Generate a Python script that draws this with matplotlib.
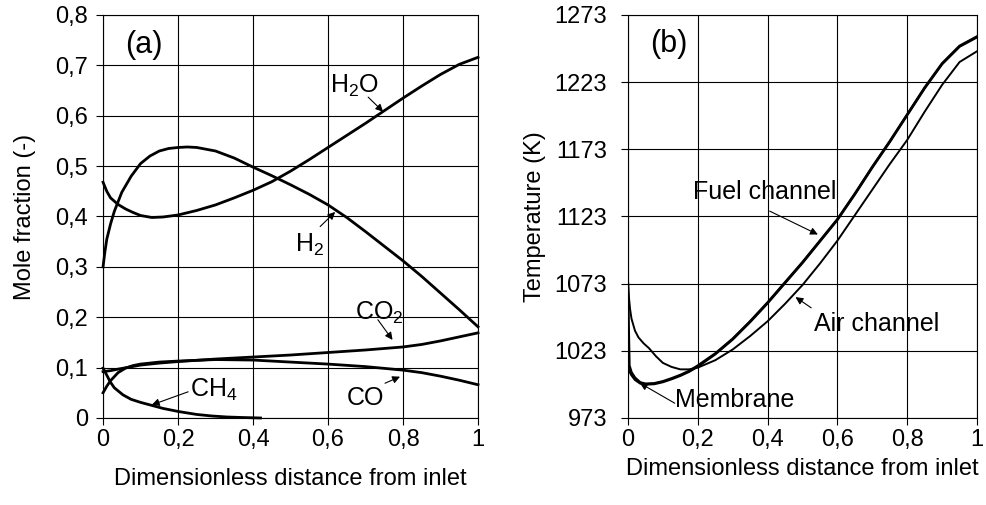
import numpy as np
import matplotlib
matplotlib.use("Agg")
from matplotlib import pyplot as plt
from matplotlib.ticker import FuncFormatter

plt.rcParams['font.family'] = ['Liberation Sans', 'DejaVu Sans']
plt.rcParams['mathtext.fontset'] = 'custom'
plt.rcParams['mathtext.rm'] = 'Liberation Sans'
plt.rcParams['mathtext.it'] = 'Liberation Sans'

# ---- (a) mole fractions along the channel
h2o_x = [0, 0.01, 0.02, 0.04, 0.06, 0.08, 0.1, 0.13, 0.16, 0.2, 0.25, 0.3, 0.35, 0.4, 0.45,
         0.5, 0.55, 0.6, 0.65, 0.7, 0.75, 0.8, 0.85, 0.9, 0.95, 1.0]
h2o_y = [0.468, 0.45, 0.437, 0.424, 0.415, 0.408, 0.402, 0.398, 0.399, 0.403, 0.412, 0.423, 0.437,
         0.452, 0.469, 0.49, 0.513, 0.537, 0.561, 0.585, 0.61, 0.635, 0.659, 0.682, 0.702, 0.716]

h2_x = [0, 0.005, 0.01, 0.02, 0.03, 0.05, 0.075, 0.1, 0.125, 0.15, 0.175, 0.2, 0.225, 0.25, 0.3,
        0.35, 0.4, 0.45, 0.5, 0.55, 0.6, 0.65, 0.7, 0.75, 0.8, 0.85, 0.9, 0.95, 1.0]
h2_y = [0.30, 0.33, 0.355, 0.385, 0.41, 0.448, 0.48, 0.505, 0.52, 0.53, 0.535, 0.537, 0.538, 0.537,
        0.53, 0.516, 0.498, 0.481, 0.463, 0.444, 0.423, 0.398, 0.37, 0.341, 0.312, 0.281, 0.248,
        0.215, 0.181]

co2_x = [0, 0.02, 0.04, 0.07, 0.1, 0.15, 0.2, 0.3, 0.4, 0.5, 0.6, 0.7, 0.8, 0.85, 0.9, 0.95, 1.0]
co2_y = [0.092, 0.094, 0.097, 0.101, 0.105, 0.109, 0.112, 0.117, 0.121, 0.125, 0.13, 0.135, 0.141,
         0.146, 0.153, 0.161, 0.169]

co_x = [0, 0.01, 0.02, 0.04, 0.06, 0.08, 0.1, 0.15, 0.2, 0.3, 0.4, 0.5, 0.6, 0.7, 0.8, 0.85, 0.9,
        0.95, 1.0]
co_y = [0.05, 0.063, 0.074, 0.09, 0.099, 0.104, 0.107, 0.111, 0.113, 0.116, 0.115, 0.111, 0.107,
        0.102, 0.095, 0.09, 0.083, 0.075, 0.066]

ch4_x = [0, 0.01, 0.019, 0.03, 0.053, 0.075, 0.1, 0.13, 0.16, 0.2, 0.25, 0.29, 0.33, 0.37, 0.42]
ch4_y = [0.099, 0.085, 0.072, 0.06, 0.046, 0.037, 0.031, 0.025, 0.019, 0.013, 0.007, 0.004, 0.002,
         0.001, 0.0]

# ---- (b) temperatures along the channel
fuel_x = [0, 0.002, 0.004, 0.01, 0.02, 0.035, 0.05, 0.075, 0.1, 0.125, 0.15, 0.175, 0.2, 0.25, 0.3,
          0.35, 0.4, 0.45, 0.5, 0.55, 0.6, 0.65, 0.7, 0.75, 0.8, 0.85, 0.9, 0.95, 1.0]
fuel_y = [1073, 1040, 1012, 1007, 1003, 999.5, 998.5, 998.8, 1000.3, 1002.5, 1005, 1008, 1012, 1021,
          1032, 1045, 1059, 1074, 1089, 1105, 1121, 1140, 1160, 1179, 1199, 1219, 1237, 1250, 1257]

memb_x = [0, 0.01, 0.02, 0.035, 0.05, 0.075, 0.1, 0.125, 0.15, 0.175, 0.2, 0.25, 0.3, 0.35, 0.4,
          0.45, 0.5, 0.55, 0.6, 0.65, 0.7, 0.75, 0.8, 0.85, 0.9, 0.95, 1.0]
memb_y = [1010, 1005, 1001.5, 998.8, 998, 998.3, 999.8, 1002, 1004.5, 1007.5, 1011.3, 1020.5, 1031.5,
          1044.5, 1058.5, 1073.5, 1088.5, 1104.5, 1120.5, 1139.5, 1159.5, 1178.5, 1198.5, 1218.5,
          1236.5, 1249.5, 1256.5]

air_x = [0, 0.003, 0.006, 0.01, 0.02, 0.03, 0.045, 0.06, 0.08, 0.1, 0.125, 0.15, 0.175, 0.2, 0.25,
         0.3, 0.35, 0.4, 0.45, 0.5, 0.55, 0.6, 0.65, 0.7, 0.75, 0.8, 0.85, 0.9, 0.95, 1.0]
air_y = [1073, 1062, 1054, 1047, 1038, 1033, 1028.5, 1025, 1019, 1014, 1011, 1009.2, 1009.2, 1010.5,
         1016, 1024, 1034, 1045, 1058, 1072, 1088, 1105, 1124, 1143, 1162, 1180, 1201, 1221, 1238,
         1246]

x_ticks = [0, 0.2, 0.4, 0.6, 0.8, 1.0]
a_ticks = [0, 0.1, 0.2, 0.3, 0.4, 0.5, 0.6, 0.7, 0.8]
b_ticks = [973, 1023, 1073, 1123, 1173, 1223, 1273]

fs = 17
comma = FuncFormatter(lambda v, p: ('%g' % round(v, 2)).replace('.', ','))

fig = plt.figure(figsize=(9.86, 5.05), dpi=100)
ax1 = fig.add_axes([0.1045, 0.1723, 0.3803, 0.798])
ax2 = fig.add_axes([0.6369, 0.1723, 0.354, 0.798])

for ax in (ax1, ax2):
    ax.set_xlim(0, 1)
    ax.set_xticks(x_ticks)
    ax.xaxis.set_major_formatter(comma)
    ax.grid(True, color='black', linewidth=0.8)
    ax.set_axisbelow(True)
    ax.tick_params(direction='out', length=5, width=0.8, labelsize=fs)
    ax.tick_params(axis='x', pad=3)
    for s in ax.spines.values():
        s.set_linewidth(0.8)
    ax.set_xlabel('Dimensionless distance from inlet', fontsize=fs)

ax1.tick_params(axis='y', pad=6)
ax2.tick_params(axis='y', pad=10)
ax1.xaxis.set_label_coords(0.5, -0.125)
ax2.xaxis.set_label_coords(0.5, -0.1)

# left panel
ax1.set_ylim(0, 0.8)
ax1.set_yticks(a_ticks)
ax1.yaxis.set_major_formatter(comma)
ax1.set_ylabel('Mole fraction (-)', fontsize=fs)
ax1.yaxis.set_label_coords(-0.18, 0.5)
for xs, ys in [(h2o_x, h2o_y), (h2_x, h2_y), (co2_x, co2_y), (co_x, co_y), (ch4_x, ch4_y)]:
    ax1.plot(xs, ys, color='black', lw=2.0, clip_on=False)

arr = dict(arrowstyle='-|>', color='black', lw=0.8, mutation_scale=11, shrinkA=0, shrinkB=0)
lf = 18
ax1.text(0.059, 0.724, '(a)', fontsize=22, ha='left', va='baseline')
ax1.annotate('', xy=(0.747, 0.608), xytext=(0.707, 0.637), arrowprops=arr)
ax1.text(0.605, 0.645, 'H$_2$O', fontsize=lf, ha='left', va='baseline')
ax1.annotate('', xy=(0.619, 0.409), xytext=(0.579, 0.38), arrowprops=arr)
ax1.text(0.512, 0.33, 'H$_2$', fontsize=lf, ha='left', va='baseline')
ax1.annotate('', xy=(0.772, 0.155), xytext=(0.733, 0.195), arrowprops=arr)
ax1.text(0.672, 0.194, 'CO$_2$', fontsize=lf, ha='left', va='baseline')
ax1.annotate('', xy=(0.792, 0.082), xytext=(0.752, 0.069), arrowprops=arr)
ax1.text(0.651, 0.026, 'CO', fontsize=lf, ha='left', va='baseline')
ax1.annotate('', xy=(0.13, 0.026), xytext=(0.227, 0.052), arrowprops=arr)
ax1.text(0.232, 0.042, 'CH$_4$', fontsize=lf, ha='left', va='baseline')

# right panel
ax2.set_ylim(973, 1273)
ax2.set_yticks(b_ticks)
ax2.set_ylabel('Temperature (K)', fontsize=fs)
ax2.yaxis.set_label_coords(-0.235, 0.5)
ax2.plot(air_x, air_y, color='black', lw=1.4)
ax2.plot(memb_x, memb_y, color='black', lw=1.8)
ax2.plot(fuel_x, fuel_y, color='black', lw=1.8)

ax2.text(0.063, 1245.4, '(b)', fontsize=22, ha='left', va='baseline')
ax2.annotate('', xy=(0.544, 1109.6), xytext=(0.406, 1127), arrowprops=arr)
ax2.text(0.185, 1135.7, 'Fuel channel', fontsize=lf, ha='left', va='baseline')
ax2.annotate('', xy=(0.48, 1063), xytext=(0.525, 1055), arrowprops=arr)
ax2.text(0.534, 1037.4, 'Air channel', fontsize=lf, ha='left', va='baseline')
ax2.annotate('', xy=(0.034, 999), xytext=(0.134, 984), arrowprops=arr)
ax2.text(0.134, 981.2, 'Membrane', fontsize=lf, ha='left', va='baseline')

fig.savefig('out.png', dpi=100)
